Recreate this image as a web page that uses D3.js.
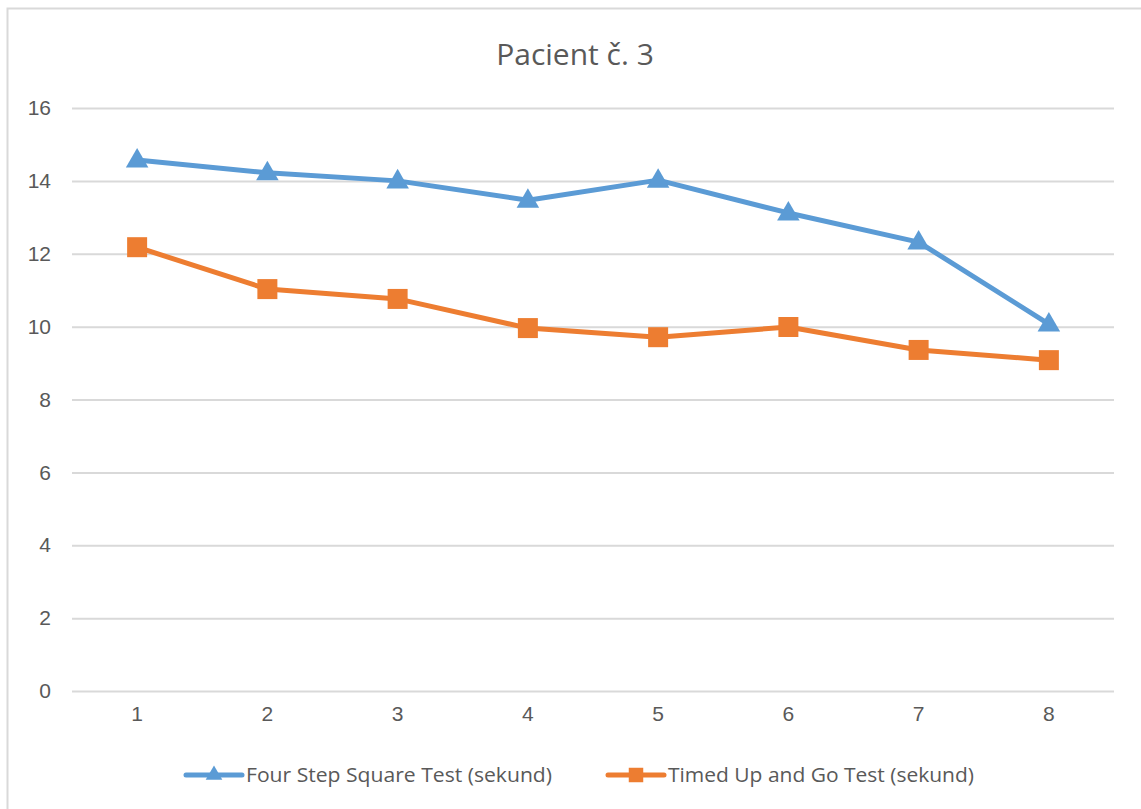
<!DOCTYPE html>
<html lang="cs">
<head>
    <meta charset="UTF-8">
    <title>Pacient č. 3</title>
    <script src="https://d3js.org/d3.v7.min.js"></script>
    <style>
        body { margin: 0; background: #fff; }
        svg { font-family: "Open Sans", sans-serif; }
    </style>
</head>
<body>
<div id="chart"></div>
<script>
var categories = ["1", "2", "3", "4", "5", "6", "7", "8"];
var fourStep = [14.57, 14.22, 14.0, 13.47, 14.02, 13.12, 12.32, 10.07];
var timedUpGo = [12.18, 11.03, 10.76, 9.96, 9.71, 9.99, 9.36, 9.08];
var yTicks = [0, 2, 4, 6, 8, 10, 12, 14, 16];
var seriesNames = ["Four Step Square Test (sekund)", "Timed Up and Go Test (sekund)"];

var width = 1141, height = 809;
var margin = {left: 72, right: 27, top: 108, bottom: 118};

var svg = d3.select("#chart").append("svg")
    .attr("width", width)
    .attr("height", height);

// chart frame
svg.append("rect")
    .attr("x", 7.5).attr("y", 8.5)
    .attr("width", width + 10).attr("height", height + 10)
    .attr("fill", "#fff")
    .attr("stroke", "#d9d9d9")
    .attr("stroke-width", 2);

var x = d3.scaleBand()
    .domain(categories)
    .range([margin.left, width - margin.right]);

var y = d3.scaleLinear()
    .domain([0, 16])
    .range([height - margin.bottom, margin.top]);

svg.append("text")
    .attr("x", 575).attr("y", 65)
    .attr("text-anchor", "middle")
    .attr("fill", "#595959")
    .style("font-size", "30px")
    .text("Pacient č. 3");

// gridlines + y labels
var yAxis = svg.append("g")
    .attr("transform", `translate(${margin.left},0)`)
    .call(d3.axisLeft(y).tickValues(yTicks).tickSize(-(width - margin.left - margin.right)).tickPadding(21));
yAxis.select(".domain").remove();
yAxis.selectAll("line").attr("stroke", "#d9d9d9").attr("stroke-width", 2);
yAxis.selectAll("text").attr("fill", "#595959").style("font-size", "21px");

var xAxis = svg.append("g")
    .attr("transform", `translate(0,${height - margin.bottom})`)
    .call(d3.axisBottom(x).tickSize(0).tickPadding(15));
xAxis.select(".domain").remove();
xAxis.selectAll("text").attr("fill", "#595959").style("font-size", "21px");

var line = d3.line()
    .x((d, i) => x(categories[i]) + x.bandwidth() / 2)
    .y(d => y(d));

var blue = "#5b9bd5", orange = "#ed7d31";

svg.append("path").datum(fourStep)
    .attr("d", line).attr("fill", "none")
    .attr("stroke", blue).attr("stroke-width", 5).attr("stroke-linejoin", "round");
svg.append("path").datum(timedUpGo)
    .attr("d", line).attr("fill", "none")
    .attr("stroke", orange).attr("stroke-width", 5).attr("stroke-linejoin", "round");

var tri = d3.symbol().type(d3.symbolTriangle).size(220);
var sq = d3.symbol().type(d3.symbolSquare).size(400);

svg.append("g").selectAll("path").data(fourStep).join("path")
    .attr("transform", (d, i) => `translate(${x(categories[i]) + x.bandwidth() / 2},${y(d) + 1})`)
    .attr("d", tri).attr("fill", blue);

svg.append("g").selectAll("path").data(timedUpGo).join("path")
    .attr("transform", (d, i) => `translate(${x(categories[i]) + x.bandwidth() / 2},${y(d)})`)
    .attr("d", sq).attr("fill", orange);

// legend
var legendY = 775;
var legendItems = [
    {name: seriesNames[0], color: blue, sym: d3.symbol().type(d3.symbolTriangle).size(120), x0: 186},
    {name: seriesNames[1], color: orange, sym: d3.symbol().type(d3.symbolSquare).size(210), x0: 608}
];
var lg = svg.append("g").selectAll("g").data(legendItems).join("g")
    .attr("transform", d => `translate(${d.x0},${legendY})`);
lg.append("line").attr("x1", 0).attr("x2", 56).attr("y1", 0).attr("y2", 0)
    .attr("stroke", d => d.color).attr("stroke-width", 5).attr("stroke-linecap", "round");
lg.append("path").attr("d", d => d.sym()).attr("fill", d => d.color)
    .attr("transform", "translate(28,0)");
lg.append("text").attr("x", 60).attr("dy", "0.35em")
    .attr("fill", "#595959").style("font-size", "20px")
    .attr("textLength", 306).attr("lengthAdjust", "spacingAndGlyphs")
    .text(d => d.name);
</script>
</body>
</html>
